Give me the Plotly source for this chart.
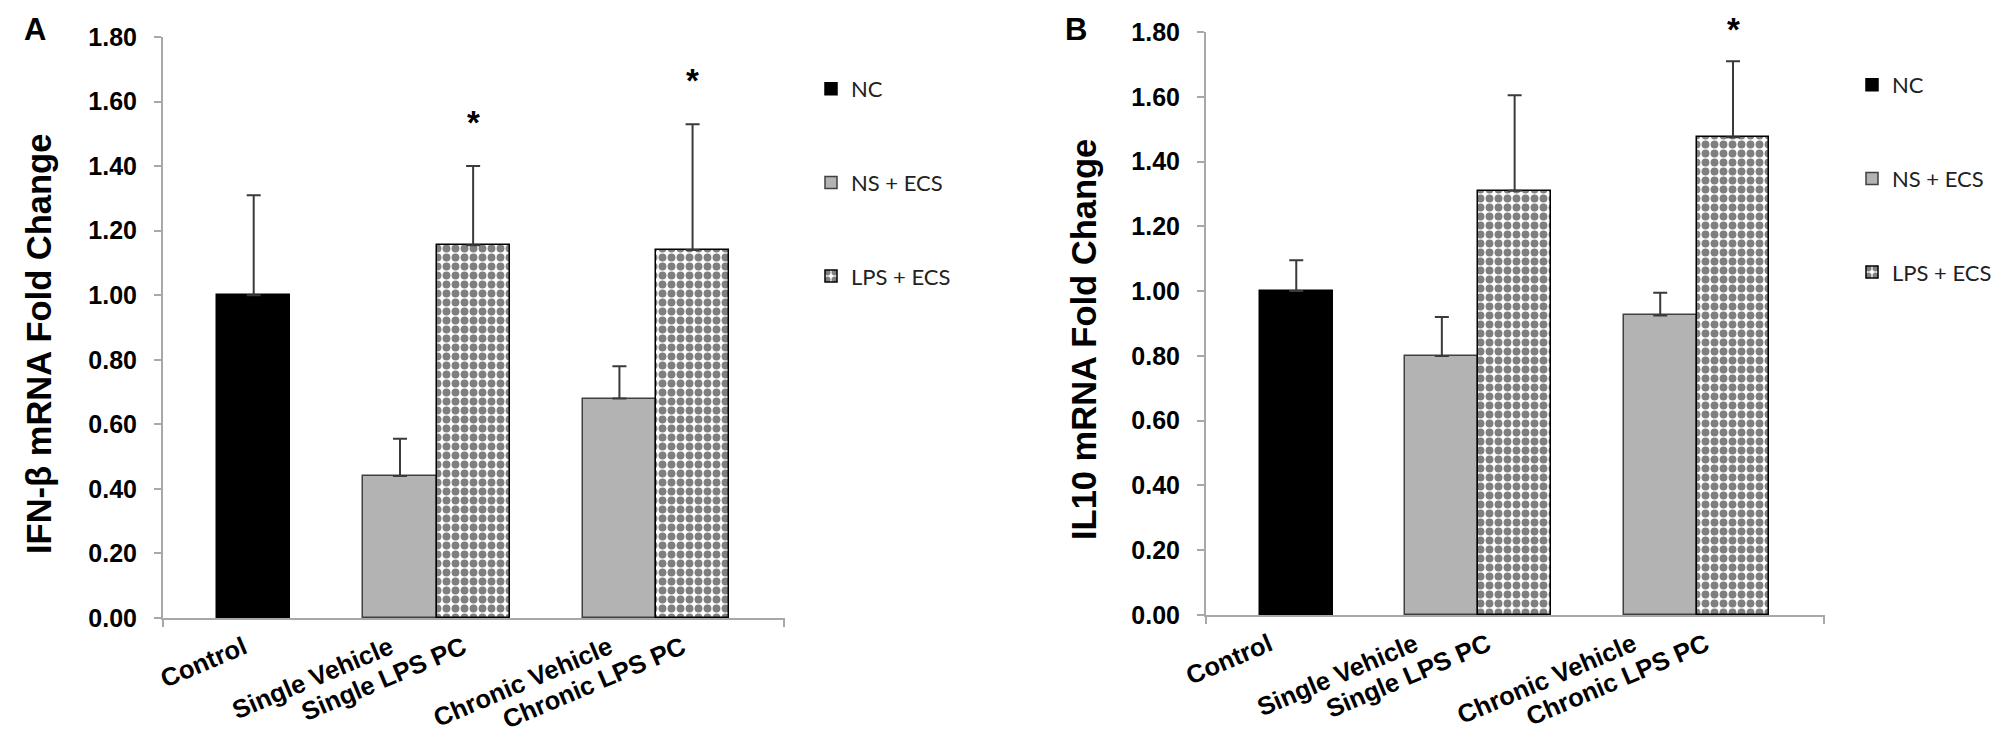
import plotly.graph_objects as go

# ---------------- data ----------------
categories = ["Control", "Single Vehicle", "Single LPS PC", "Chronic Vehicle", "Chronic LPS PC"]
category_series = ["NC", "NS + ECS", "LPS + ECS", "NS + ECS", "LPS + ECS"]
series_names = ["NC", "NS + ECS", "LPS + ECS"]
# axis order includes two empty spacer slots between the groups
axis_order = ["Control", "gap1", "Single Vehicle", "Single LPS PC", "gap2", "Chronic Vehicle", "Chronic LPS PC"]

ifnb_mean = [1.00, 0.44, 1.155, 0.68, 1.14]
ifnb_err = [0.31, 0.115, 0.245, 0.10, 0.39]
ifnb_sig = [False, False, True, False, True]

il10_mean = [1.00, 0.80, 1.31, 0.925, 1.475]
il10_err = [0.095, 0.12, 0.295, 0.07, 0.235]
il10_sig = [False, False, False, False, True]

y_ticks = [0.0, 0.2, 0.4, 0.6, 0.8, 1.0, 1.2, 1.4, 1.6, 1.8]
y_titles = ["IFN-β mRNA Fold Change", "IL10 mRNA Fold Change"]
panel_letters = ["A", "B"]

# ---------------- styles ----------------
W, H = 2010, 735
BOLD = "Liberation Sans, Arial, sans-serif"
LEG_FONT = "Lato, Open Sans, sans-serif"
AXIS_GRAY = "#a8a8a8"

styles = {
    "NC": dict(color="black", line=dict(color="black", width=1.5)),
    "NS + ECS": dict(color="#b3b3b3", line=dict(color="#404040", width=1.5)),
    "LPS + ECS": dict(color="white", line=dict(color="black", width=1.5),
                      pattern=dict(shape=".", fgcolor="black", bgcolor="white",
                                   size=9, solidity=0.6, fillmode="overlay")),
}

panels = [
    dict(mean=ifnb_mean, err=ifnb_err, sig=ifnb_sig,
         xdom=[155 / W, 776 / W], ydom=[1 - 610 / H, 1 - 29 / H],
         legend="legend", title_xy=(31, 336), letter_xy=(27, 22),
         label_shift=-10, star_shift=44),
    dict(mean=il10_mean, err=il10_err, sig=il10_sig,
         xdom=[1198 / W, 1816 / W], ydom=[1 - 607 / H, 1 - 24 / H],
         legend="legend2", title_xy=(1076, 332), letter_xy=(1068, 21),
         label_shift=-27, star_shift=32),
]

fig = go.Figure()
annotations = []
shapes = []

for i, p in enumerate(panels):
    xa = "x" if i == 0 else "x2"
    ya = "y" if i == 0 else "y2"
    for s in series_names:
        idx = [k for k, cs in enumerate(category_series) if cs == s]
        fig.add_trace(go.Bar(
            x=[categories[k] for k in idx],
            y=[p["mean"][k] for k in idx],
            name=s,
            xaxis=xa, yaxis=ya,
            marker=styles[s],
            error_y=dict(type="data", symmetric=False,
                         array=[p["err"][k] for k in idx],
                         arrayminus=[0] * len(idx),
                         color="#3a3a3a", thickness=2, width=7),
            legend=p["legend"],
            legendgroup=s + str(i),
            showlegend=True,
            hoverinfo="skip",
        ))
    # significance asterisks
    for k, flag in enumerate(p["sig"]):
        if flag:
            annotations.append(dict(
                x=categories[k], y=p["mean"][k] + p["err"][k],
                xref=xa, yref=ya, text="*", showarrow=False,
                yanchor="middle", yshift=p["star_shift"],
                font=dict(family=BOLD, size=33, color="black", weight="bold")))
    # y-axis title
    tx, ty = p["title_xy"]
    annotations.append(dict(
        x=tx / W, y=1 - ty / H, xref="paper", yref="paper",
        text=y_titles[i], textangle=-90, showarrow=False,
        xanchor="center", yanchor="middle",
        font=dict(family=BOLD, size=34.5, color="black", weight="bold")))
    # panel letter
    lx, ly = p["letter_xy"]
    annotations.append(dict(
        x=lx / W, y=1 - ly / H, xref="paper", yref="paper",
        text=panel_letters[i], showarrow=False,
        xanchor="center", yanchor="middle",
        font=dict(family=BOLD, size=31, color="black", weight="bold")))
    # small end ticks on the category axis
    for xd in (0, 1):
        shapes.append(dict(
            type="line", xref=xa + " domain", yref=ya + " domain",
            x0=xd, x1=xd, y0=0, y1=-9 / (p["ydom"][1] - p["ydom"][0]) / H,
            line=dict(color=AXIS_GRAY, width=2)))

    xaxis = dict(
        domain=p["xdom"], anchor=ya, type="category",
        categoryorder="array", categoryarray=axis_order,
        range=[-1.24, 7.25],
        tickmode="array", tickvals=categories, ticktext=categories,
        tickangle=-23, ticks="", ticklabelshift=p["label_shift"],
        ticklabelstandoff=3,
        tickfont=dict(family=BOLD, size=25.5, color="black", weight="bold"),
        showline=True, linecolor=AXIS_GRAY, linewidth=2,
        showgrid=False, zeroline=False, automargin=False, fixedrange=True)
    yaxis = dict(
        domain=p["ydom"], anchor=xa, range=[0, 1.8],
        tickmode="array", tickvals=y_ticks, ticktext=[f"{v:.2f}" for v in y_ticks],
        ticks="outside", ticklen=7, tickwidth=2, tickcolor=AXIS_GRAY,
        ticklabelstandoff=12,
        tickfont=dict(family=BOLD, size=25, color="black", weight="bold"),
        showline=True, linecolor=AXIS_GRAY, linewidth=2,
        showgrid=False, zeroline=False, automargin=False, fixedrange=True)
    if i == 0:
        fig.update_layout(xaxis=xaxis, yaxis=yaxis)
    else:
        fig.update_layout(xaxis2=xaxis, yaxis2=yaxis)

legend_common = dict(
    xanchor="left", yanchor="top", traceorder="grouped", tracegroupgap=62,
    font=dict(family=LEG_FONT, size=22, color="#222222"),
    bgcolor="rgba(0,0,0,0)", borderwidth=0, itemclick=False, itemdoubleclick=False)

fig.update_layout(
    width=W, height=H,
    margin=dict(l=0, r=0, t=0, b=0),
    paper_bgcolor="white", plot_bgcolor="white",
    barmode="overlay", bargap=0,
    legend=dict(x=803 / W, y=1 - 60 / H, **legend_common),
    legend2=dict(x=1844 / W, y=1 - 56 / H, **legend_common),
    annotations=annotations,
    shapes=shapes,
)

fig.write_html("out.html")
